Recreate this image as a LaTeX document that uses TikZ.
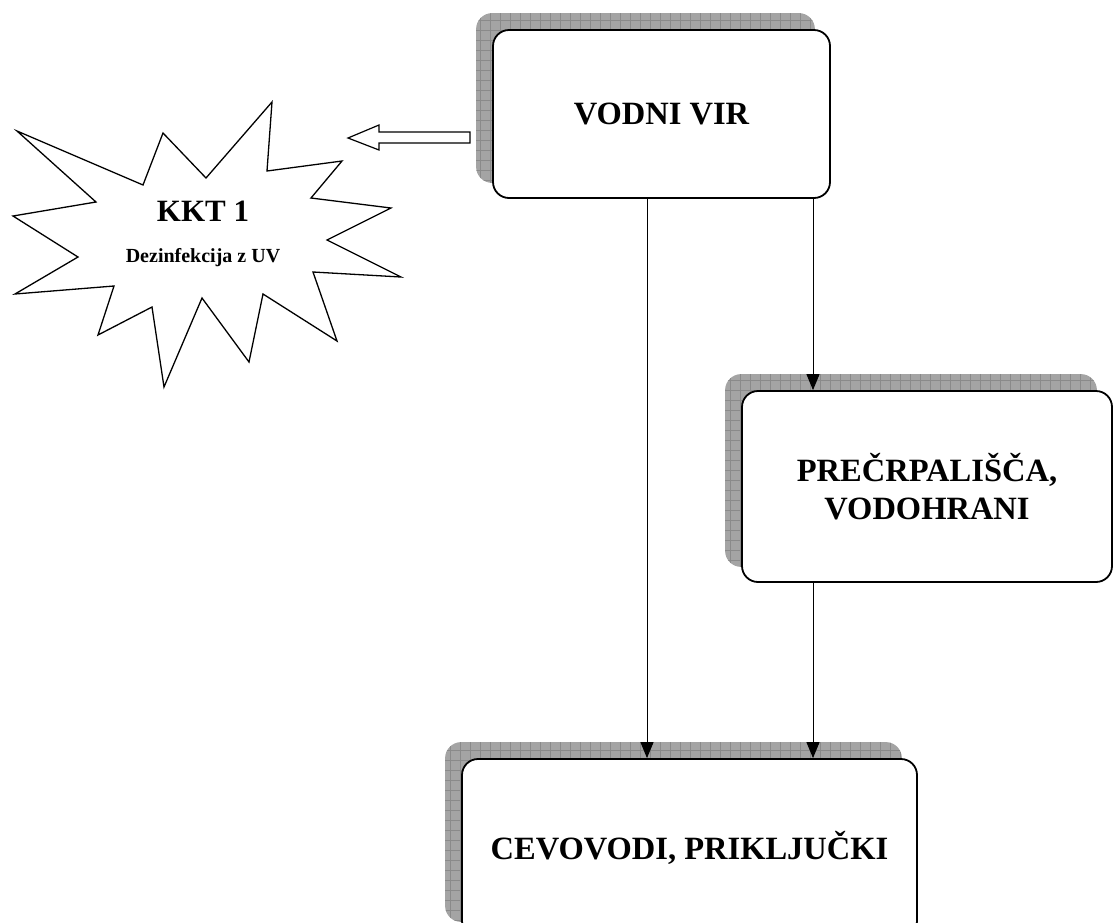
\documentclass[tikz,border=0pt]{standalone}
\usepackage{fontspec}
\setmainfont{Liberation Serif}
\usetikzlibrary{arrows.meta, calc, backgrounds}
\definecolor{shadowgray}{HTML}{A4A4A4}
\definecolor{gridgray}{HTML}{8A8A8A}

\begin{document}
\begin{tikzpicture}[x=1pt, y=-1pt,
  stagebox/.style={draw, line width=1.8pt, rounded corners=16pt, fill=white, align=center, inner sep=0pt, font=\fontsize{32.5}{38}\selectfont\bfseries},
  gridshadow/.style={fill=shadowgray, rounded corners=16pt, path picture={\draw[gridgray, line width=0.7pt] (path picture bounding box.north west) grid[step=10pt] (path picture bounding box.south east);}},
  flow/.style={->, >={Triangle[width=13pt,length=16pt]}, line width=1pt}]
% Define the parameters
\pgfmathsetmacro{\sh}{16} % shadow offset
\clip (0,0) rectangle (1114,922);

% Draw boxes
\node[stagebox, minimum width=337pt, minimum height=168pt] (vir) at (661.5,114) {VODNI VIR};
\node[stagebox, minimum width=370pt, minimum height=191pt] (prec) at (927,486.5) {PREČRPALIŠČA,\\VODOHRANI};
\node[stagebox, minimum width=455pt, minimum height=178pt] (cev) at (689.5,848) {CEVOVODI, PRIKLJUČKI};

% Draw shadows
\begin{scope}[on background layer]
\foreach \b in {vir, prec, cev}
  \path[gridshadow] ($(\b.north west)+(-\sh,-\sh)$) rectangle ($(\b.south east)+(-\sh,-\sh)$);
\end{scope}

% Draw flow
\coordinate (dropL) at (647,0);
\coordinate (dropR) at (813,0);
\draw[flow] (vir.south -| dropL) -- (cev.north -| dropL);
\draw[flow] (vir.south -| dropR) -- (prec.north -| dropR);
\draw[flow] (prec.south -| dropR) -- (cev.north -| dropR);

% Draw star
\draw[line width=1.3pt, line join=miter] (272,102) -- (267,171) -- (342,161) -- (311,198) -- (391,208) -- (327,240)
  -- (401,277) -- (313,272) -- (337,341) -- (263,294) -- (249,362) -- (202,298) -- (164,387) -- (152,307)
  -- (98,335) -- (114,286) -- (15,294) -- (78,257) -- (13,216) -- (96,202) -- (17,131) -- (143,185)
  -- (163,133) -- (206,178) -- cycle;
\node[font=\fontsize{31}{36}\selectfont\bfseries] (kkt) at (203,211) {KKT 1};
\node[font=\fontsize{20}{24}\selectfont\bfseries] (dez) at (203,258) {Dezinfekcija z UV};

% Draw hollow arrow
\draw[line width=1.2pt, line join=miter] (470,132) -- (379,132) -- (379,125) -- (348,138) -- (379,150) -- (379,143) -- (470,143) -- cycle;
\end{tikzpicture}
\end{document}
